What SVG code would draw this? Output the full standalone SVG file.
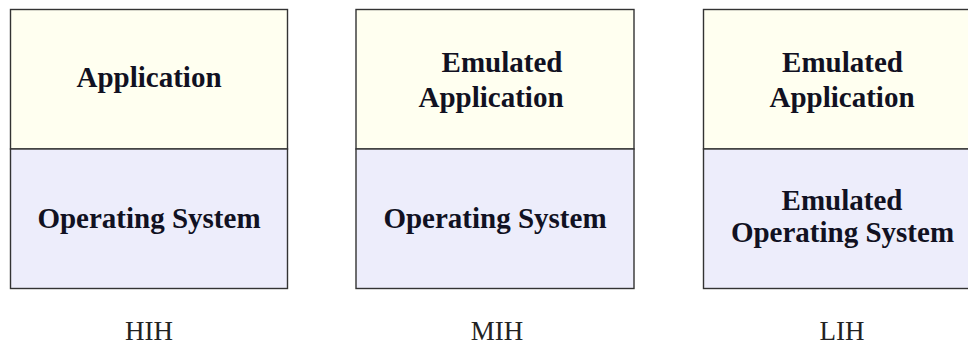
<svg xmlns="http://www.w3.org/2000/svg" width="968" height="345" viewBox="0 0 968 345">
  <style>
    .frame { stroke: #333333; stroke-width: 1.4; }
    .app { fill: #FFFFF0; }
    .os { fill: #EDEDFB; }
    .layer { font-family: "Liberation Serif", "Times New Roman", serif; font-weight: bold; font-size: 29px; fill: #111122; text-anchor: middle; }
    .caption { font-family: "Liberation Serif", "Times New Roman", serif; font-size: 27px; fill: #222222; text-anchor: middle; }
  </style>
  <rect width="968" height="345" fill="#ffffff"/>

  <!-- High-interaction honeypot -->
  <g id="hih">
    <rect class="frame app" x="10.5" y="9.5" width="277" height="139.5"/>
    <rect class="frame os" x="10.5" y="149" width="277" height="139.5"/>
    <text class="layer" x="149" y="87">Application</text>
    <text class="layer" x="149" y="228">Operating System</text>
    <text class="caption" x="149" y="340">HIH</text>
  </g>

  <!-- Medium-interaction honeypot -->
  <g id="mih">
    <rect class="frame app" x="356" y="9.5" width="278" height="139.5"/>
    <rect class="frame os" x="356" y="149" width="278" height="139.5"/>
    <text class="layer" x="502" y="72">Emulated</text>
    <text class="layer" x="491" y="107">Application</text>
    <text class="layer" x="495" y="228">Operating System</text>
    <text class="caption" x="497" y="340">MIH</text>
  </g>

  <!-- Low-interaction honeypot -->
  <g id="lih">
    <rect class="frame app" x="703.5" y="9.5" width="278" height="139.5"/>
    <rect class="frame os" x="703.5" y="149" width="278" height="139.5"/>
    <text class="layer" x="842.5" y="72">Emulated</text>
    <text class="layer" x="842" y="107">Application</text>
    <text class="layer" x="842" y="210">Emulated</text>
    <text class="layer" x="842.5" y="242">Operating System</text>
    <text class="caption" x="842" y="340">LIH</text>
  </g>

  <g id="connectors"/>
</svg>
